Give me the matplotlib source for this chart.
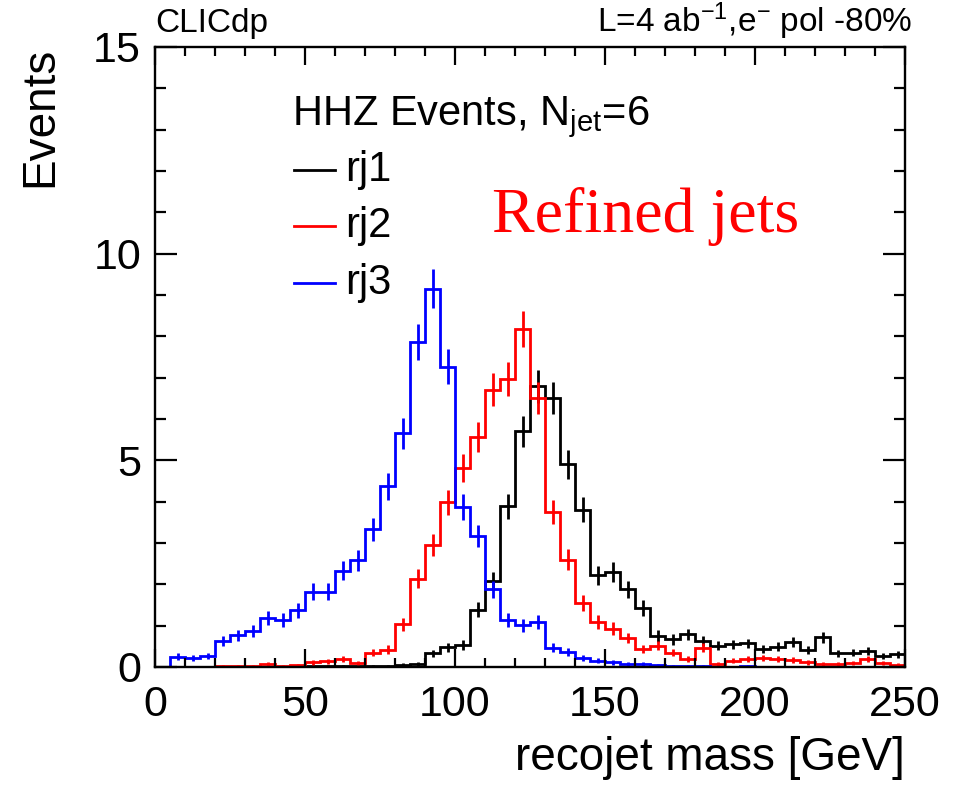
import numpy as np
import matplotlib
matplotlib.use("Agg")
import matplotlib.pyplot as plt
from matplotlib.lines import Line2D
from matplotlib.ticker import MultipleLocator

plt.rcParams['font.family'] = ['Liberation Sans', 'DejaVu Sans']
plt.rcParams['mathtext.fontset'] = 'custom'
plt.rcParams['mathtext.rm'] = 'Liberation Sans'
plt.rcParams['mathtext.it'] = 'Liberation Sans:italic'

# histogram binning: 50 bins of 5 GeV
bin_edges = np.arange(0, 255, 5)

# rj1 (black)
rj1 = [0, 0, 0, 0, 0, 0, 0, 0, 0, 0.01,
       0.02, 0.02, 0.02, 0.03, 0.02, 0.03, 0.06, 0.08, 0.33, 0.48,
       0.53, 1.38, 2.08, 3.89, 5.70, 6.79, 6.51, 4.90, 3.81, 2.22,
       2.30, 1.88, 1.43, 0.75, 0.67, 0.79, 0.63, 0.51, 0.55, 0.57,
       0.43, 0.49, 0.61, 0.41, 0.72, 0.33, 0.35, 0.39, 0.27, 0.31]
# rj2 (red)
rj2 = [0, 0.01, 0.01, 0.01, 0.02, 0.02, 0.03, 0.07, 0.03, 0.05,
       0.11, 0.14, 0.19, 0.09, 0.35, 0.42, 1.03, 2.14, 2.95, 3.98,
       4.82, 5.56, 6.71, 6.97, 8.18, 6.51, 3.75, 2.60, 1.54, 1.09,
       0.93, 0.70, 0.43, 0.51, 0.35, 0.19, 0.47, 0.07, 0.15, 0.19,
       0.21, 0.19, 0.17, 0.11, 0.08, 0.08, 0.09, 0.19, 0.09, 0.06]
# rj3 (blue)
rj3 = [0, 0.25, 0.21, 0.27, 0.62, 0.77, 0.88, 1.19, 1.14, 1.37,
       1.82, 1.82, 2.33, 2.58, 3.33, 4.37, 5.65, 7.87, 9.15, 7.27,
       3.87, 3.17, 1.88, 1.14, 1.01, 1.09, 0.47, 0.37, 0.21, 0.15,
       0.11, 0.08, 0.07, 0.05, 0.03, 0.02, 0.02, 0.01, 0.01, 0.02,
       0.01, 0.01, 0.0, 0.01, 0.01, 0.0, 0.01, 0.0, 0.0, 0.01]

series_names = ['rj1', 'rj2', 'rj3']
series_colors = ['black', '#ff0000', '#0000ff']
event_weight = 0.024  # per-event weight used for sqrt(N) error bars

W, H = 959, 786
def fx(px):
    return px / W
def fy(py):
    return 1 - py / H

fig = plt.figure(figsize=(W / 100, H / 100), dpi=100)
ax = fig.add_axes([fx(155), fy(667), fx(905) - fx(155), fy(47) - fy(667)])

centers = 0.5 * (bin_edges[:-1] + bin_edges[1:])
for vals, col in zip([rj1, rj2, rj3], series_colors):
    vals = np.array(vals)
    ax.stairs(vals, bin_edges, color=col, lw=2.0, baseline=0)
    err = np.sqrt(vals / event_weight) * event_weight
    ax.errorbar(centers, vals, yerr=err, fmt='none', ecolor=col, elinewidth=2.0)

ax.set_xlim(0, 250)
ax.set_ylim(0, 15)
ax.xaxis.set_major_locator(MultipleLocator(50))
ax.xaxis.set_minor_locator(MultipleLocator(10))
ax.yaxis.set_major_locator(MultipleLocator(5))
ax.yaxis.set_minor_locator(MultipleLocator(1))
ax.tick_params(axis='both', which='both', direction='in', top=True, right=True, width=1.6)
ax.tick_params(axis='x', which='major', length=13, labelsize=31, pad=13)
ax.tick_params(axis='x', which='minor', length=6.5)
ax.tick_params(axis='y', which='major', length=16, labelsize=31, pad=10)
ax.tick_params(axis='y', which='minor', length=8)
for sp in ax.spines.values():
    sp.set_linewidth(1.7)

ax.set_xlabel('recojet mass [GeV]', fontsize=33, loc='right', labelpad=8)
ax.set_ylabel('Events', fontsize=33, loc='top', labelpad=22)

fig.text(fx(155), fy(32), 'CLICdp', fontsize=24, ha='left', va='baseline')
fig.text(fx(912), fy(32), 'L=4 ab$^{-1}$,e$^{-}$ pol -80%', fontsize=24,
         ha='right', va='baseline')

# legend
fig.text(fx(292), fy(125), r'HHZ Events, N$_{\mathrm{jet}}$=6', fontsize=30,
         ha='left', va='baseline')
rows = [170, 226, 283]
for name, col, yr in zip(series_names, series_colors, rows):
    fig.add_artist(Line2D([fx(294), fx(335)], [fy(yr), fy(yr)], color=col, lw=2.0,
                          transform=fig.transFigure))
    fig.text(fx(345), fy(yr), name, fontsize=30, ha='left', va='center')

fig.text(fx(492), fy(232), 'Refined jets', fontsize=46, color='#ff0000',
         family='Liberation Serif', ha='left', va='baseline')

fig.savefig('out.png', dpi=100)
